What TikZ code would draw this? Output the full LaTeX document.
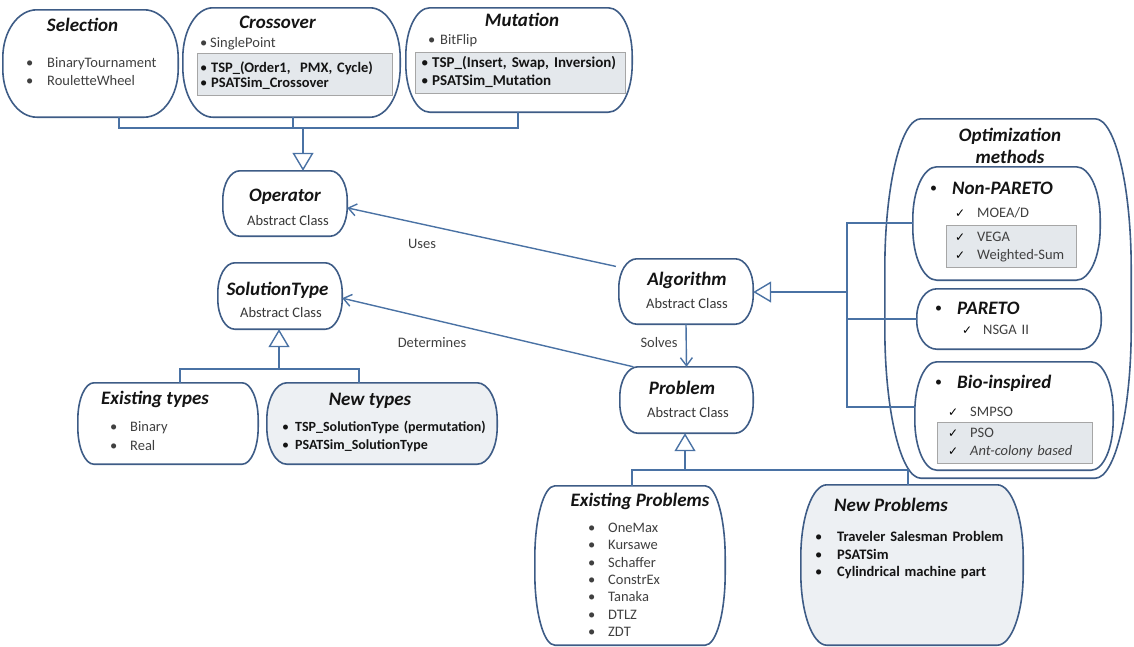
\documentclass[tikz,border=0pt]{standalone}
\usepackage{fontspec}
\setmainfont{Carlito}
\newfontfamily\symfont{DejaVu Sans}
\usepackage{xcolor}
\usepackage{tikz}
\usetikzlibrary{arrows.meta, positioning, calc}

\definecolor{boxline}{RGB}{62,92,134}
\definecolor{linkline}{RGB}{74,114,164}
\definecolor{itemgray}{RGB}{64,64,64}
\definecolor{panelfill}{RGB}{228,232,236}
\definecolor{newfill}{RGB}{237,240,243}

\newcommand{\bul}[2][12pt]{\makebox[#1][l]{\mdseries\upshape •}#2}
\newcommand{\tbul}[2][22pt]{\makebox[#1][l]{\normalfont\fontsize{14}{14}\selectfont\raisebox{2pt}{•}}#2}
\newcommand{\chk}[2][22pt]{\makebox[#1][l]{\color{black}\symfont\fontsize{12}{12}\selectfont ✓}#2}
% oval outline round a placeholder node: name, x radius, y radius
\newcommand{\ovalframe}[4][]{%
  \path[#1] ($(#2.north west)+(#3,0)$) -- ($(#2.north east)+(-#3,0)$)
    .. controls +(0.552*#3,0) and +(0,-0.552*#4) .. ($(#2.north east)+(0,#4)$)
    -- ($(#2.south east)+(0,-#4)$)
    .. controls +(0,0.552*#4) and +(0.552*#3,0) .. ($(#2.south east)+(-#3,0)$)
    -- ($(#2.south west)+(#3,0)$)
    .. controls +(-0.552*#3,0) and +(0,0.552*#4) .. ($(#2.south west)+(0,-#4)$)
    -- ($(#2.north west)+(0,#4)$)
    .. controls +(0,-0.552*#4) and +(-0.552*#3,0) .. ($(#2.north west)+(#3,0)$)
    -- cycle;}

\begin{document}
\begin{tikzpicture}[
  x=1pt, y=-1pt,
  font=\fontsize{14.5}{17.5}\selectfont,
  box/.style    = {inner sep=0pt},
  frame/.style  = {draw=boxline, line width=1.6pt, fill=white},
  newframe/.style = {frame, fill=newfill},
  panel/.style  = {draw=black!35, line width=0.6pt, fill=panelfill, inner sep=0pt},
  title/.style  = {anchor=base, inner sep=0pt, text=black!92,
                   font=\fontsize{19}{22}\selectfont\bfseries\itshape},
  btitle/.style = {title, anchor=base west},
  sub/.style    = {anchor=base, inner sep=0pt, text=black!78},
  lst/.style    = {anchor=base west, inner sep=0pt, text width=8cm, align=left,
                   text=itemgray},
  blst/.style   = {lst, text=black!92,
                   font=\fontsize{14.5}{17.5}\selectfont\bfseries},
  lbl/.style    = {inner sep=0pt, text=itemgray},
  link/.style   = {draw=linkline, line width=1.4pt},
  gen/.style    = {-{Triangle[open, length=18pt, width=21pt]}},
  uses/.style   = {-{Straight Barb[length=8pt, width=12pt]}},
]
\useasboundingbox (0,0) rectangle (1134,646);

%% Operators
\node[box, minimum width=175pt, minimum height=107pt] (sel)   at (90.5,63.5) {};
\node[box, minimum width=217pt, minimum height=109pt] (cross) at (291.5,62.5) {};
\node[box, minimum width=226pt, minimum height=104pt] (mut)   at (519,60) {};
\ovalframe[frame]{sel}{34}{48}
\ovalframe[frame]{cross}{30}{50}
\ovalframe[frame]{mut}{24}{48}
\node[panel, minimum width=195pt, minimum height=42pt] (crosspanel) at (294.5,74) {};
\node[panel, minimum width=210pt, minimum height=41pt] (mutpanel)   at (520,72.5) {};

\node[title] (selt)   at (82.5,31) {Selection};
\node[lst, font=\fontsize{14.5}{18}\selectfont] (sellst) at (26,67.5)
     {\bul[21pt]{BinaryTournament}\\ \bul[21pt]{RouletteWheel}};
\node[title] (crosst)   at (277.5,28) {Crossover};
\node[lst]   (crosslst) at (200,47.5) {\bul[10pt]{SinglePoint}};
\node[blst, font=\fontsize{14.5}{15}\selectfont\bfseries] (crossnew) at (200,72.5)
     {\bul[11pt]{TSP\_(Order1,\ \ PMX, Cycle)}\\ \bul[11pt]{PSATSim\_Crossover}};
\node[title] (mutt)   at (522,26) {Mutation};
\node[lst]   (mutlst) at (428,44.5) {\bul[12pt]{BitFlip}};
\node[blst, font=\fontsize{15}{18}\selectfont\bfseries] (mutnew) at (421,67.5)
     {\bul[11pt]{TSP\_(Insert, Swap, Inversion)}\\ \bul[11pt]{PSATSim\_Mutation}};

%% Abstract classes
\node[box, minimum width=124pt, minimum height=65pt] (oper)    at (285,203.5) {};
\node[box, minimum width=124pt, minimum height=66pt] (soltype) at (280,296) {};
\node[box, minimum width=134pt, minimum height=65pt] (algo)    at (686,291.5) {};
\node[box, minimum width=133pt, minimum height=66pt] (prob)    at (686.5,400) {};
\ovalframe[frame]{oper}{17}{29}
\ovalframe[frame]{soltype}{17}{30}
\ovalframe[frame]{algo}{18}{29}
\ovalframe[frame]{prob}{18}{30}

\node[title] (opert)  at (285,201)   {Operator};
\node[sub]   (opers)  at (288,225.5) {Abstract Class};
\node[title] (soltt)  at (277.5,295) {SolutionType};
\node[sub]   (solts)  at (281,317.5) {Abstract Class};
\node[title] (algot)  at (687,285)   {Algorithm};
\node[sub]   (algos)  at (687,308.5) {Abstract Class};
\node[title] (probt)  at (682,394)   {Problem};
\node[sub]   (probs)  at (688,417.5) {Abstract Class};

%% Solution types
\node[box, minimum width=180pt, minimum height=81pt] (extypes)  at (168,423.5) {};
\node[box, minimum width=230pt, minimum height=81pt] (newtypes) at (382,423.5) {};
\ovalframe[frame]{extypes}{16}{37}
\ovalframe[newframe]{newtypes}{20}{37}
\node[title] (ext)   at (155,404) {Existing types};
\node[lst, font=\fontsize{14.5}{19}\selectfont] (exlst) at (110,431.5)
     {\bul[20pt]{Binary}\\ \bul[20pt]{Real}};
\node[title] (newt)  at (370,405) {New types};
\node[blst, font=\fontsize{14}{18}\selectfont\bfseries] (newlst) at (282,431.5)
     {\bul[13pt]{TSP\_SolutionType (permutation)}\\ \bul[13pt]{PSATSim\_SolutionType}};

%% Problems
\node[box, minimum width=190pt, minimum height=159pt] (exprob)  at (630,565.5) {};
\node[box, minimum width=222pt, minimum height=160pt] (newprob) at (912,565) {};
\ovalframe[frame]{exprob}{20}{72}
\ovalframe[newframe]{newprob}{26}{72}
\node[title] (exprobt) at (640,506) {Existing Problems};
\node[lst, font=\fontsize{14.5}{17.3}\selectfont] (exproblst) at (588,532.5)
     {\bul[20pt]{OneMax}\\ \bul[20pt]{Kursawe}\\ \bul[20pt]{Schaffer}\\
      \bul[20pt]{ConstrEx}\\ \bul[20pt]{Tanaka}\\ \bul[20pt]{DTLZ}\\ \bul[20pt]{ZDT}};
\node[title] (newprobt) at (891,511) {New Problems};
\node[blst] (newproblst) at (815,541.5)
     {\bul[22pt]{Traveler Salesman Problem}\\ \bul[22pt]{PSATSim}\\
      \bul[22pt]{Cylindrical machine part}};

%% Optimization methods
\node[box, minimum width=246pt, minimum height=359pt] (optm) at (1008,298.5) {};
\ovalframe[frame]{optm}{36}{150}
\node[title, text width=140pt, align=center] (optmt) at (1010,141)
     {Optimization\\ methods};

\node[box, minimum width=187pt, minimum height=113pt] (nonpar) at (1006.5,223.5) {};
\ovalframe[frame]{nonpar}{24}{52}
\node[panel, minimum width=130pt, minimum height=42pt] (nonparpanel) at (1011,246) {};
\node[btitle] (nonpart) at (930,194) {\tbul{Non-PARETO}};
\node[lst] (nonparlst) at (955,217.5) {\chk{MOEA/D}};
\node[lst, font=\fontsize{14.5}{18}\selectfont] (nonparnew) at (955,241.5)
     {\chk{VEGA}\\ \chk{Weighted-Sum}};

\node[box, minimum width=184pt, minimum height=60pt] (par) at (1009,319) {};
\ovalframe[frame]{par}{20}{28}
\node[btitle] (part) at (935,314) {\tbul{PARETO}};
\node[lst] (parlst) at (962,334.5) {\chk[21pt]{NSGA II}};

\node[box, minimum width=198pt, minimum height=108pt] (bio) at (1014,416) {};
\ovalframe[frame]{bio}{22}{50}
\node[panel, minimum width=155pt, minimum height=41pt] (biopanel) at (1014.5,442.5) {};
\node[btitle] (biot) at (935,388) {\tbul{Bio-inspired}};
\node[lst] (biolst) at (948,416.5) {\chk{SMPSO}};
\node[lst, font=\fontsize{14.5}{18}\selectfont] (bionew) at (948,437.5)
     {\chk{PSO}\\ \chk{\textit{Ant-colony based}}};

%% Generalizations
\coordinate (selj)   at (119,128);
\coordinate (crossj) at (293,128);
\coordinate (mutj)   at (518,128);
\coordinate (opj)    at (303,128);
\draw[link] (selj |- sel.south) -- (selj) -- (mutj) -- (mutj |- mut.south);
\draw[link] (crossj |- cross.south) -- (crossj);
\draw[link, gen] (opj) -- (opj |- oper.north);

\coordinate (stj) at (279,369);
\coordinate (exj) at (180,369);
\coordinate (nwj) at (359,369);
\draw[link] (exj |- extypes.north) -- (exj) -- (nwj) -- (nwj |- newtypes.north);
\draw[link, gen] (stj) -- (stj |- soltype.south);

\coordinate (prj) at (685,470);
\coordinate (epj) at (632,470);
\coordinate (npj) at (908,470);
\draw[link] (epj |- exprob.north) -- (epj) -- (npj) -- (npj |- newprob.north);
\draw[link, gen] (prj) -- (prj |- prob.south);

\coordinate (alj)  at (847,292);
\coordinate (npaj) at (847,223);
\coordinate (bioj) at (847,407);
\draw[link] (nonpar.west |- npaj) -- (npaj) -- (bioj) -- (bio.west |- bioj);
\draw[link] (par.west) -- (par.west -| alj);
\draw[link, gen] (alj) -- (alj -| algo.east);

%% Associations
\draw[link, uses, shorten <=3pt] (algo.160) -- (oper.-4);
\draw[link, uses] (prob.148) -- (soltype.-2);
\draw[link, uses] (algo.south) -- (prob.north);
\node[lbl] (usesl)  at (422,244) {Uses};
\node[lbl] (detl)   at (432,343) {Determines};
\node[lbl] (solvel) at (659,343) {Solves};

\end{tikzpicture}
\end{document}
